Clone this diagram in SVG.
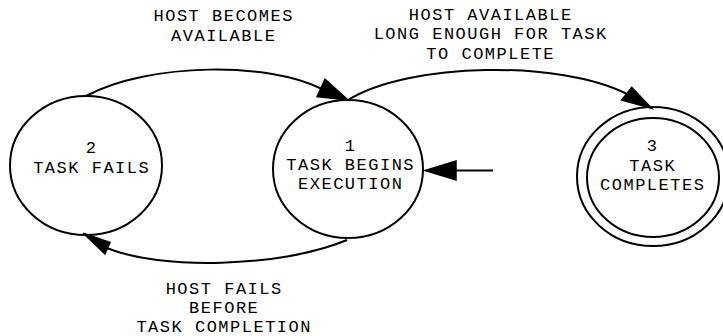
<svg xmlns="http://www.w3.org/2000/svg" width="723" height="336" viewBox="0 0 723 336">
<style>
  .node ellipse { fill: none; stroke: #000; stroke-width: 2; }
  .edge path { fill: none; stroke: #000; stroke-width: 2; }
  .edge polygon { fill: #000; stroke: #000; stroke-width: 1.5; }
  text { font-family: "Liberation Mono", "Courier New", monospace; font-size: 17px; letter-spacing: 1.5px; fill: #000; text-anchor: middle; }
</style>
<rect width="723" height="336" fill="#fff"/>
<g id="node2" class="node">
  <ellipse cx="86" cy="165.5" rx="76" ry="69.5"/>
  <text x="91.7" y="153">2</text>
  <text x="91.7" y="172.5">TASK FAILS</text>
</g>
<g id="node1" class="node">
  <ellipse cx="348" cy="169" rx="75" ry="69"/>
  <text x="350.7" y="150.5">1</text>
  <text x="350.7" y="169.5">TASK BEGINS</text>
  <text x="350.7" y="188.5">EXECUTION</text>
</g>
<g id="node3" class="node">
  <ellipse cx="653" cy="176.5" rx="76" ry="69.5"/>
  <ellipse cx="653" cy="177.5" rx="66" ry="59.5"/>
  <text x="652.7" y="150.5">3</text>
  <text x="652.7" y="170.5">TASK</text>
  <text x="652.7" y="190">COMPLETES</text>
</g>
<g id="edges" class="edge">
  <path d="M86,96 C150,62 270,62 322,89"/>
  <polygon points="317,96.7 325,79.3 348,100"/>
  <path d="M348,100 C410,62 560,60 627,94"/>
  <polygon points="621.7,100 631.7,87.3 651.7,108.3"/>
  <path d="M347,240 C280,268 160,270 107,248"/>
  <polygon points="110,242.5 105,254 83.3,233.3"/>
  <path d="M493,170.5 L456,170.5"/>
  <polygon points="456,161 456,180 425,170.5"/>
</g>
<g id="labels">
  <text x="223.7" y="21">HOST BECOMES</text>
  <text x="223.7" y="40.5">AVAILABLE</text>
  <text x="490.7" y="19.5">HOST AVAILABLE</text>
  <text x="490.7" y="39">LONG ENOUGH FOR TASK</text>
  <text x="490.7" y="58.5">TO COMPLETE</text>
  <text x="224.2" y="294">HOST FAILS</text>
  <text x="224.2" y="313">BEFORE</text>
  <text x="224.2" y="332">TASK COMPLETION</text>
</g>
</svg>
